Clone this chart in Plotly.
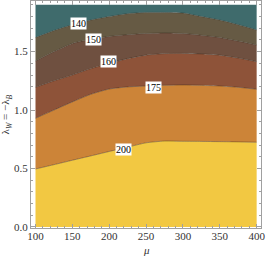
import plotly.graph_objects as go

# x positions (mu) at which contour boundaries were read
mu = [100, 125, 150, 175, 200, 225, 250, 275, 300, 325, 350, 375, 400]
levels = [200, 175, 160, 150, 140]
# boundary lambda values for each contour level
b200 = [0.496, 0.533, 0.571, 0.608, 0.646, 0.683, 0.720, 0.735, 0.733, 0.732, 0.730, 0.728, 0.725]
b175 = [0.930, 1.000, 1.070, 1.135, 1.180, 1.198, 1.206, 1.212, 1.215, 1.212, 1.206, 1.195, 1.178]
b160 = [1.195, 1.250, 1.300, 1.355, 1.400, 1.440, 1.470, 1.483, 1.485, 1.480, 1.470, 1.445, 1.414]
b150 = [1.420, 1.500, 1.570, 1.605, 1.630, 1.645, 1.655, 1.660, 1.655, 1.640, 1.620, 1.590, 1.557]
b140 = [1.620, 1.680, 1.730, 1.770, 1.800, 1.825, 1.835, 1.835, 1.830, 1.800, 1.770, 1.730, 1.685]
y_min, y_max = 0.0, 1.9

fills = ["#f2c842", "#cc8438", "#8e5339", "#6f5040", "#665a44", "#3f6b6c"]
label_pos = {140: (159, 1.742), 150: (178.5, 1.604), 160: (199, 1.414), 175: (259.4, 1.197), 200: (219.2, 0.667)}

fig = go.Figure()
fig.add_trace(go.Scatter(x=mu, y=[y_min] * len(mu), mode="lines", line=dict(width=0), hoverinfo="skip", showlegend=False))
bounds = [b200, b175, b160, b150, b140]
for i, b in enumerate(bounds):
    fig.add_trace(go.Scatter(x=mu, y=b, mode="lines", fill="tonexty", fillcolor=fills[i],
                             line=dict(color="rgba(40,30,20,0.45)", width=0.8, shape="spline", smoothing=0.6),
                             showlegend=False))
fig.add_trace(go.Scatter(x=mu, y=[y_max] * len(mu), mode="lines", fill="tonexty", fillcolor=fills[5],
                         line=dict(width=0), showlegend=False))

for lv in levels:
    x, y = label_pos[lv]
    fig.add_annotation(x=x, y=y, text=str(lv), showarrow=False, bgcolor="white",
                       font=dict(family="Liberation Serif", size=10, color="black"), borderpad=0)

title_font = dict(family="Liberation Serif", size=11, color="#333")
fig.add_annotation(xref="paper", yref="paper", x=0.5, y=-0.097, text="<i>μ</i>", showarrow=False,
                   font=title_font, yanchor="middle")
fig.add_annotation(xref="paper", yref="paper", x=-0.109, y=0.5, text="λ<sub><i>W</i></sub> = −λ<sub><i>B</i></sub>",
                   showarrow=False, font=title_font, textangle=-90, xanchor="center", yanchor="middle")

axis_common = dict(showline=True, linecolor="#a0a0a0", linewidth=1, mirror="ticks", ticks="inside",
                   ticklen=4, tickcolor="#a0a0a0", showgrid=False, zeroline=False, ticklabeloverflow="allow",
                   tickfont=dict(family="Liberation Serif", size=11, color="#333"))
fig.update_layout(
    width=266, height=260, margin=dict(l=31, r=5, t=1, b=32),
    paper_bgcolor="white", plot_bgcolor="white",
    xaxis=dict(range=[93.9, 405.9], tickvals=[100, 150, 200, 250, 300, 350, 400],
               minor=dict(dtick=10, ticks="inside", ticklen=2, tickcolor="#a0a0a0"),
               ticklabelstandoff=-2, **axis_common),
    yaxis=dict(range=[-0.0086, 1.933], tickvals=[0, 0.5, 1.0, 1.5], ticktext=["0.0", "0.5", "1.0", "1.5"],
               minor=dict(dtick=0.1, ticks="inside", ticklen=2, tickcolor="#a0a0a0"),
               **axis_common),
)
fig.write_html("out.html", config={"displayModeBar": False},
               post_script="document.body.style.margin='0';document.body.style.overflow='hidden';")
